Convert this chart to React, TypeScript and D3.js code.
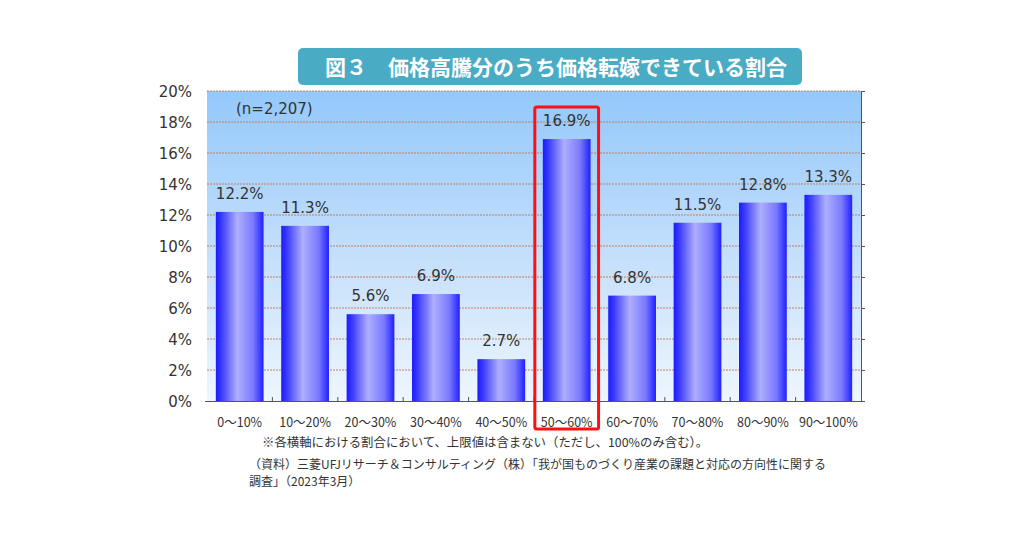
import { useRef, useEffect } from 'react';
import * as d3 from 'd3';

// カテゴリ・値
const categories = ['0～10%', '10～20%', '20～30%', '30～40%', '40～50%', '50～60%', '60～70%', '70～80%', '80～90%', '90～100%'];
const values = [12.2, 11.3, 5.6, 6.9, 2.7, 16.9, 6.8, 11.5, 12.8, 13.3];
const yTicks = [0, 2, 4, 6, 8, 10, 12, 14, 16, 18, 20];
const highlight = '50～60%';

const title = '図３　価格高騰分のうち価格転嫁できている割合';
const nLabel = '(n=2,207)';
const notes = [
  '※各横軸における割合において、上限値は含まない（ただし、100%のみ含む）。',
  '（資料）三菱UFJリサーチ＆コンサルティング（株）「我が国ものづくり産業の課題と対応の方向性に関する',
  '調査」（2023年3月）',
];

const W = 1024;
const H = 538;
const plot = { left: 207, right: 861, top: 91, bottom: 401 };
const FONT = '"Noto Sans CJK JP", "DejaVu Sans", sans-serif';
const NUM_FONT = '"DejaVu Sans", Verdana, sans-serif';

const App = () => {
  const svgRef = useRef<SVGSVGElement>(null);

  useEffect(() => {
    const svg = d3.select(svgRef.current);
    svg.selectAll('*').remove();

    const x = d3.scaleBand().domain(categories).range([plot.left, plot.right]).paddingInner(0.27).paddingOuter(0.135);
    const y = d3.scaleLinear().domain([0, 20]).range([plot.bottom, plot.top]);

    const defs = svg.append('defs');
    const bg = defs.append('linearGradient').attr('id', 'bg').attr('x1', 0).attr('y1', 0).attr('x2', 0).attr('y2', 1);
    bg.append('stop').attr('offset', '0%').attr('stop-color', '#94c8fb');
    bg.append('stop').attr('offset', '55%').attr('stop-color', '#c6e0fb');
    bg.append('stop').attr('offset', '100%').attr('stop-color', '#eef6fe');

    const bar = defs.append('linearGradient').attr('id', 'bar').attr('x1', 0).attr('y1', 0).attr('x2', 1).attr('y2', 0);
    bar.append('stop').attr('offset', '0%').attr('stop-color', '#1a1aff');
    bar.append('stop').attr('offset', '12%').attr('stop-color', '#3b3bff');
    bar.append('stop').attr('offset', '45%').attr('stop-color', '#aeaeff');
    bar.append('stop').attr('offset', '78%').attr('stop-color', '#7a7aff');
    bar.append('stop').attr('offset', '100%').attr('stop-color', '#2020ff');

    // title
    svg.append('rect').attr('x', 298).attr('y', 48).attr('width', 504).attr('height', 37).attr('rx', 5).attr('fill', '#4aabc5');
    svg.append('text').attr('x', 556).attr('y', 75).attr('text-anchor', 'middle').attr('fill', '#fff')
      .attr('font-family', FONT).attr('font-weight', 'bold').attr('font-size', 21).text(title);

    // background
    svg.append('rect').attr('x', plot.left).attr('y', plot.top).attr('width', plot.right - plot.left)
      .attr('height', plot.bottom - plot.top).attr('fill', 'url(#bg)');

    // grid
    svg.append('g').selectAll('line').data(yTicks.filter((t) => t > 0)).join('line')
      .attr('x1', plot.left).attr('x2', plot.right).attr('y1', (d) => y(d)).attr('y2', (d) => y(d))
      .attr('stroke', '#c0704a').attr('stroke-width', 1).attr('stroke-dasharray', '2,1').attr('opacity', 0.85);

    // y labels
    svg.append('g').selectAll('text').data(yTicks).join('text')
      .attr('x', 192).attr('y', (d) => y(d) + 6).attr('text-anchor', 'end')
      .attr('font-family', NUM_FONT).attr('font-size', 15).attr('fill', '#333').text((d) => `${d}%`);

    // bars
    svg.append('g').selectAll('rect').data(values).join('rect')
      .attr('x', (d, i) => x(categories[i])!).attr('width', x.bandwidth())
      .attr('y', (d) => y(d)).attr('height', (d) => y(0) - y(d)).attr('fill', 'url(#bar)');

    // value labels
    svg.append('g').selectAll('text').data(values).join('text')
      .attr('x', (d, i) => x(categories[i])! + x.bandwidth() / 2).attr('y', (d) => y(d) - 13)
      .attr('text-anchor', 'middle').attr('font-family', NUM_FONT).attr('font-size', 15).attr('fill', '#333')
      .text((d) => `${d.toFixed(1)}%`);

    // axes lines
    svg.append('line').attr('x1', plot.left - 2).attr('x2', plot.right).attr('y1', plot.bottom + 0.5).attr('y2', plot.bottom + 0.5)
      .attr('stroke', '#555').attr('stroke-width', 1);
    svg.append('line').attr('x1', plot.right + 0.5).attr('x2', plot.right + 0.5).attr('y1', plot.top).attr('y2', plot.bottom)
      .attr('stroke', '#555').attr('stroke-width', 1);
    const step = x.step();
    svg.append('g').selectAll('line').data(d3.range(1, categories.length)).join('line')
      .attr('x1', (i) => plot.left + i * step).attr('x2', (i) => plot.left + i * step)
      .attr('y1', plot.bottom - 4).attr('y2', plot.bottom).attr('stroke', '#555');
    svg.append('g').selectAll('line').data(yTicks).join('line')
      .attr('x1', plot.right).attr('x2', plot.right + 4).attr('y1', (d) => y(d) + 0.5).attr('y2', (d) => y(d) + 0.5)
      .attr('stroke', '#555');

    // x labels
    svg.append('g').selectAll('text').data(categories).join('text')
      .attr('x', (d) => x(d)! + x.bandwidth() / 2).attr('y', 427).attr('text-anchor', 'middle')
      .attr('font-family', FONT).attr('font-size', 12.5).attr('fill', '#333').text((d) => d);

    // n label
    svg.append('text').attr('x', 236).attr('y', 114).attr('font-family', NUM_FONT).attr('font-size', 15)
      .attr('fill', '#333').text(nLabel);

    // highlight box
    const hx = x(highlight)!;
    svg.append('rect').attr('x', hx - 8).attr('y', 107).attr('width', x.bandwidth() + 16).attr('height', 322)
      .attr('rx', 2).attr('fill', 'none').attr('stroke', '#ff1010').attr('stroke-width', 3);

    // notes
    svg.append('g').selectAll('text').data(notes).join('text')
      .attr('x', (d, i) => (i === 0 ? 262 : 249)).attr('y', (d, i) => [447, 469, 486][i])
      .attr('font-family', FONT).attr('font-size', (d, i) => (i === 0 ? 12.4 : 12)).attr('fill', '#333').text((d) => d);
  }, []);

  return (
    <div style={{ width: W, height: H, margin: -8, background: '#fff' }}>
      <svg ref={svgRef} width={W} height={H} />
    </div>
  );
};

export default App;
